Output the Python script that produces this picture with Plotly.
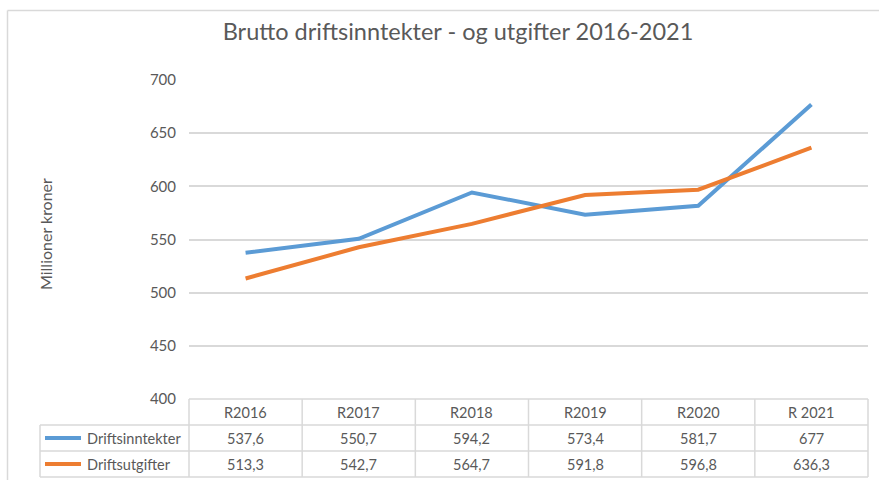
import plotly.graph_objects as go

# Regnskapstall (millioner kroner)
kategorier = ["R2016", "R2017", "R2018", "R2019", "R2020", "R 2021"]
inntekter = [537.6, 550.7, 594.2, 573.4, 581.7, 677]
utgifter = [513.3, 542.7, 564.7, 591.8, 596.8, 636.3]
inntekter_tekst = ["537,6", "550,7", "594,2", "573,4", "581,7", "677"]
utgifter_tekst = ["513,3", "542,7", "564,7", "591,8", "596,8", "636,3"]
serier = ["Driftsinntekter", "Driftsutgifter"]
farger = ["#5B9BD5", "#ED7D31"]

W, H = 879, 480
ML, MR, MT, MB = 189, 11, 80, 81
PW, PH = W - ML - MR, H - MT - MB

FONT = "Lato"
TXT = "#595959"
GRID = "#D9D9D9"


def px(p):
    return (p - ML) / PW


def py(p):
    return (H - MB - p) / PH


x_idx = list(range(len(kategorier)))

fig = go.Figure()
for navn, verdier, farge in zip(serier, [inntekter, utgifter], farger):
    fig.add_trace(go.Scatter(
        x=x_idx, y=verdier, mode="lines", name=navn,
        line=dict(color=farge, width=4), showlegend=False,
        hoverinfo="skip",
    ))

shapes = []
annots = []

# Ytre ramme rundt diagrammet
shapes.append(dict(type="line", xref="paper", yref="paper",
                   x0=px(7.5), x1=px(W + 5), y0=py(10.5), y1=py(10.5),
                   line=dict(color=GRID, width=1.5)))
shapes.append(dict(type="line", xref="paper", yref="paper",
                   x0=px(7.5), x1=px(7.5), y0=py(10.5), y1=py(H + 5),
                   line=dict(color=GRID, width=1.5)))

# Datatabell under plottområdet
n = len(kategorier)
col_w = PW / n
col_edges = [ML + i * col_w for i in range(n + 1)]
row_top, row_h = 399, 26
row_edges = [row_top + i * row_h for i in range(4)]
legend_left = 40

def hline(x0, x1, y):
    shapes.append(dict(type="line", xref="paper", yref="paper",
                       x0=px(x0), x1=px(x1), y0=py(y), y1=py(y),
                       line=dict(color=GRID, width=1.5)))

def vline(x, y0, y1):
    shapes.append(dict(type="line", xref="paper", yref="paper",
                       x0=px(x), x1=px(x), y0=py(y0), y1=py(y1),
                       line=dict(color=GRID, width=1.5)))

hline(col_edges[0], col_edges[-1], row_edges[0])
for r in range(1, 4):
    hline(legend_left, col_edges[-1], row_edges[r])
for i, xe in enumerate(col_edges):
    vline(xe, row_edges[0], row_edges[3])
vline(legend_left, row_edges[1], row_edges[3])

def label(x, y, text, anchor="center"):
    annots.append(dict(xref="paper", yref="paper", x=px(x), y=py(y),
                       text=text, showarrow=False, xanchor=anchor,
                       yanchor="middle",
                       font=dict(family=FONT, size=14.5, color=TXT)))

for i, k in enumerate(kategorier):
    cx = (col_edges[i] + col_edges[i + 1]) / 2
    label(cx, row_edges[0] + row_h / 2, k)
    label(cx, row_edges[1] + row_h / 2, inntekter_tekst[i])
    label(cx, row_edges[2] + row_h / 2, utgifter_tekst[i])

for r, (navn, farge) in enumerate(zip(serier, farger)):
    cy = row_edges[r + 1] + row_h / 2
    shapes.append(dict(type="line", xref="paper", yref="paper",
                       x0=px(45), x1=px(81), y0=py(cy), y1=py(cy),
                       line=dict(color=farge, width=4)))
    label(85, cy, navn, anchor="left")

# Aksetittel
annots.append(dict(xref="paper", yref="paper", x=px(45), y=py(234),
                   text="Millioner kroner", showarrow=False, textangle=-90,
                   xanchor="center", yanchor="middle",
                   font=dict(family=FONT, size=16, color=TXT)))

fig.update_layout(
    width=W, height=H,
    margin=dict(l=ML, r=MR, t=MT, b=MB, pad=0),
    paper_bgcolor="white", plot_bgcolor="white",
    title=dict(text="Brutto driftsinntekter - og utgifter 2016-2021",
               x=458 / W, xanchor="center", y=1 - 32 / H, yanchor="middle",
               font=dict(family=FONT, size=23.5, color=TXT)),
    xaxis=dict(range=[-0.5, n - 0.5], showticklabels=False, showgrid=False,
               zeroline=False, showline=False, fixedrange=True),
    yaxis=dict(range=[400, 700], dtick=50, tick0=400, showgrid=True,
               gridcolor=GRID, gridwidth=1.5, zeroline=False, showline=False,
               ticks="", ticklabelstandoff=12,
               tickfont=dict(family=FONT, size=15, color=TXT)),
    shapes=shapes, annotations=annots,
)

fig.write_html("out.html")
